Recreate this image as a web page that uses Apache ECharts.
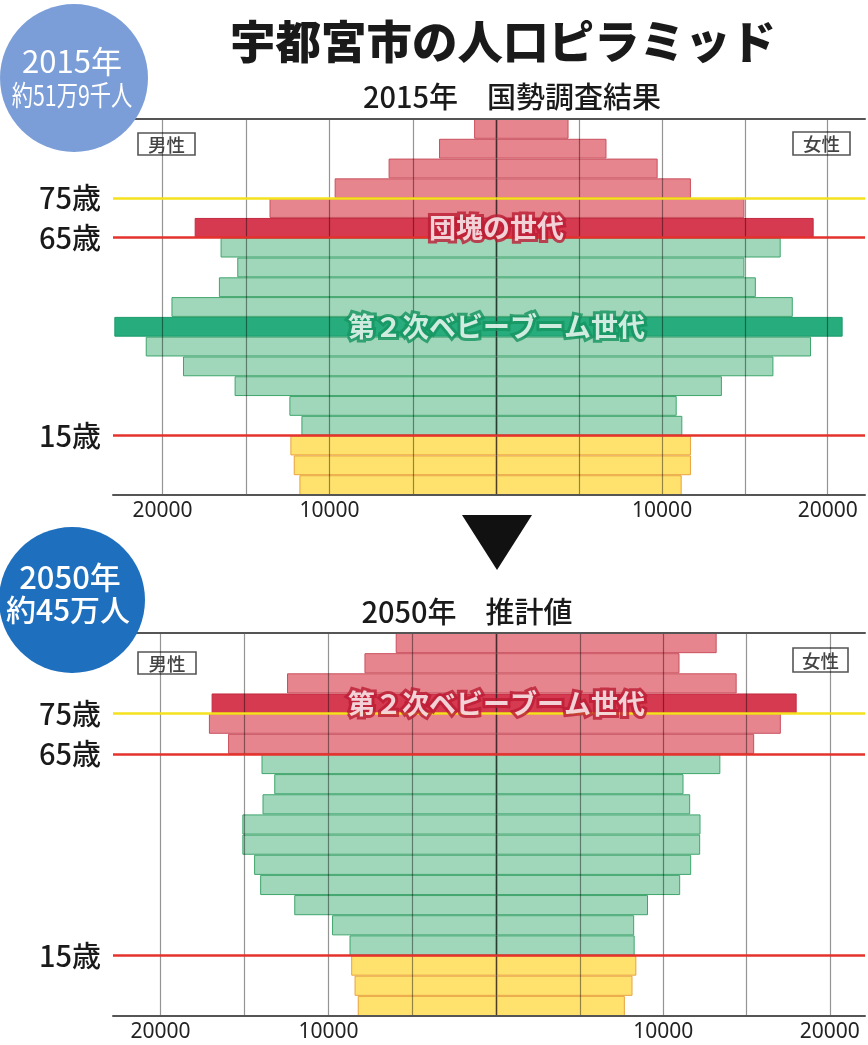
<!DOCTYPE html>
<html><head><meta charset="utf-8">
<script src="https://cdn.jsdelivr.net/npm/echarts@6.0.0/dist/echarts.min.js"></script>
<style>html,body{margin:0;padding:0;background:#fff}#c{width:868px;height:1045px}</style>
</head><body><div id="c"></div>
<script>
// ---- data (age groups bottom to top) ----
const ages = ['0-4','5-9','10-14','15-19','20-24','25-29','30-34','35-39','40-44','45-49','50-54','55-59','60-64','65-69','70-74','75-79','80-84','85-89','90+'];
const male2015   = [11800,12140,12340,11680,12400,15680,18770,21000,22880,19460,16620,15520,16520,18070,13590,9690,6460,3440,1340];
const female2015 = [11180,11740,11740,11220,10880,13610,16720,18990,20900,17890,15660,14970,17160,19150,14970,11740,9730,6640,4350];
const male2050   = [8260,8450,8650,8750,9790,12040,14070,14430,15130,15130,13930,13230,13990,15980,17120,16960,12470,7860,6000];
const female2050 = [7700,8160,8390,8290,8260,9090,11020,11680,12220,12240,11620,11220,13430,15460,17060,18010,14410,10980,13210];
const tickLabels = [10000, 20000];
const ageLines = [75, 65, 15];
const highlight2015 = [{age:'40-44', text:'第２次ベビーブーム世代'}, {age:'65-69', text:'団塊の世代'}];
const highlight2050 = [{age:'75-79', text:'第２次ベビーブーム世代'}];

const FONT = '"Noto Sans CJK JP","Noto Sans",sans-serif';
const COL = {
  young:{fill:'#ffe26e', border:'#e9a23c'},
  work:{fill:'#a0d7bb', border:'#3fa56c', hi:'#27ad7d', hiBorder:'#1c9a6a', text:'#15935f'},
  old:{fill:'#e6858e', border:'#c9505d', hi:'#d63a50', hiBorder:'#c42a40', text:'#bb1d35'}
};
function groupOf(i){ return i<3?'young':(i<13?'work':'old'); }
function barData(vals, hl){
  const hiAges = hl.map(h=>h.age);
  return vals.map((v,i)=>{
    const g = COL[groupOf(i)];
    const hi = hiAges.includes(ages[i]);
    return {value:v, itemStyle:{color: hi?g.hi:g.fill, borderColor: hi?g.hiBorder:g.border, borderWidth:1}};
  });
}

const grids = [
  {left:113, top:119, width:383.5, height:376},
  {left:496.5, top:119, width:371.5, height:376},
  {left:113, top:633, width:383.5, height:383},
  {left:496.5, top:633, width:371.5, height:383}
];
const maxes = [22960, 22250, 22830, 22110];
const isMale = [true,false,true,false];

const xAxis = [];
grids.forEach((g,i)=>{
  xAxis.push({type:'value', gridIndex:i, min:0, max:maxes[i], interval:5000, inverse:isMale[i], z:3,
    axisLine:{show:true, onZero:false, lineStyle:{color:'#555', width:2}},
    axisTick:{show:false},
    axisLabel:{margin:6, fontSize:21, color:'#222', fontFamily:'"Noto Sans",sans-serif',
      formatter:v=> tickLabels.includes(v)? String(v):''},
    splitLine:{show:true, showMinLine:true, showMaxLine:false, lineStyle:{color:'rgba(0,0,0,0.42)', width:1.2}}
  });
});
grids.forEach((g,i)=>{
  xAxis.push({type:'value', gridIndex:i, min:0, max:maxes[i], position:'top', z:3,
    axisLine:{show:true, onZero:false, lineStyle:{color:'#555', width:2}},
    axisTick:{show:false}, axisLabel:{show:false}, splitLine:{show:false}});
});
const yAxis = [];
grids.forEach((g,i)=>{
  yAxis.push({type:'category', gridIndex:i, data:ages, show:false});
});
grids.forEach((g,i)=>{
  yAxis.push({type:'value', gridIndex:i, min:0, max:ages.length, interval:1, position:'left',
    show:isMale[i], axisLine:{show:false}, axisTick:{show:false}, splitLine:{show:false},
    axisLabel:{show:isMale[i], margin:12, fontSize:29, fontWeight:500, color:'#1a1a1a', fontFamily:FONT,
      formatter:v=> ageLines.includes(v*5)? (v*5)+'歳':''}});
});

const series = [];
const sets = [[male2015, highlight2015],[female2015, highlight2015],[male2050, highlight2050],[female2050, highlight2050]];
sets.forEach((s,i)=>{
  series.push({type:'bar', xAxisIndex:i, yAxisIndex:i, barCategoryGap:'0%', data:barData(s[0], s[1]), z:2, silent:true});
  series.push({type:'scatter', xAxisIndex:i, yAxisIndex:grids.length+i, data:[], z:10, silent:true,
    markLine:{silent:true, symbol:'none', label:{show:false}, animation:false,
      data: ageLines.map(a=>({yAxis:a/5, lineStyle:{type:'solid', width:2.5, color: a===75?'#f4e21c':'#e5322d'}}))}});
});
[[1, highlight2015],[3, highlight2050]].forEach(([gi, hl])=>{
  series.push({type:'scatter', xAxisIndex:gi, yAxisIndex:gi, symbolSize:0, clip:false, z:20, silent:true,
    data: hl.map(h=>{
      const g = COL[groupOf(ages.indexOf(h.age))];
      return {value:[0, h.age], label:{show:true, position:'inside', formatter:h.text, color:'#fff',
        fontSize:27, fontWeight:'bold', fontFamily:FONT, textBorderColor:g.text, textBorderWidth:6}};
    })});
});

function txt(x,y,text,font,fill,extra){
  return Object.assign({type:'text', x:x, y:y, z:100,
    style:{text:text, font:font, fill:fill, textAlign:'center', textVerticalAlign:'middle', align:'center', verticalAlign:'middle'}}, extra||{});
}
function box(x,y,w,h,text){
  return {type:'group', z:100, children:[
    {type:'rect', shape:{x:x,y:y,width:w,height:h}, style:{fill:'#fff', stroke:'#555', lineWidth:1.6}},
    txt(x+w/2, y+h/2+0.5, text, '500 18.5px '+FONT, '#444')
  ]};
}

const graphic = [
  txt(503, 42, '宇都宮市の人口ピラミッド', '900 45.5px '+FONT, '#1a1a1a'),
  txt(512, 97, '2015年　国勢調査結果', '500 29px '+FONT, '#1a1a1a'),
  txt(467, 612, '2050年　推計値', '500 29px '+FONT, '#1a1a1a'),
  {type:'circle', z:90, shape:{cx:74, cy:78, r:74}, style:{fill:'#7c9ed8'}},
  txt(72, 61, '2015年', '400 31px '+FONT, '#fff'),
  txt(72, 95, '約51万9千人', '400 28px '+FONT, '#fff', {scaleX:0.76}),
  {type:'circle', z:90, shape:{cx:72, cy:600, r:73}, style:{fill:'#1f6fbf'}},
  txt(70, 577, '2050年', '500 31px '+FONT, '#fff'),
  txt(68, 610, '約45万人', '500 30px '+FONT, '#fff'),
  {type:'polygon', z:100, shape:{points:[[462,515],[532,515],[497,570]]}, style:{fill:'#111'}},
  box(138, 133, 57, 22, '男性'),
  box(793, 132, 57, 23, '女性'),
  box(138, 652, 58, 22, '男性'),
  box(793, 648, 55, 24, '女性')
];

const chart = echarts.init(document.getElementById('c'), null, {renderer:'canvas'});
chart.setOption({animation:false, backgroundColor:'#fff', grid:grids, xAxis:xAxis, yAxis:yAxis, series:series, graphic:graphic});
</script></body></html>
